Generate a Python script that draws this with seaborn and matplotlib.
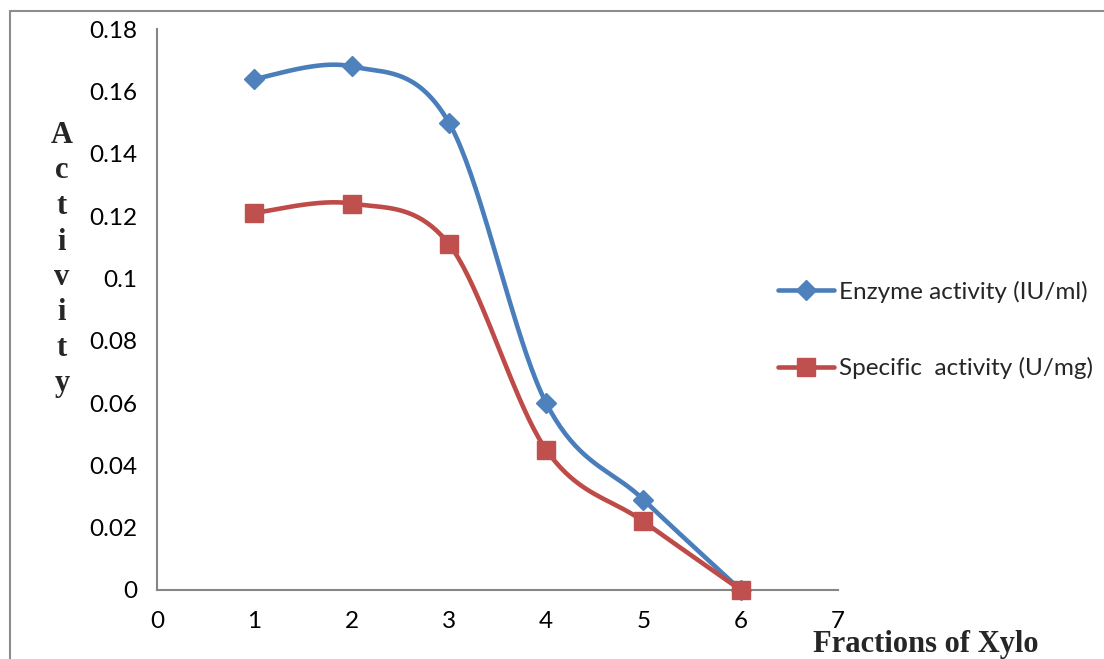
import numpy as np
import pandas as pd
import matplotlib
matplotlib.use("Agg")
import matplotlib.pyplot as plt
from matplotlib.lines import Line2D
import seaborn as sns

# ---- data ----
fractions = [1, 2, 3, 4, 5, 6]
enzyme_activity = [0.164, 0.168, 0.150, 0.060, 0.029, 0.0]
specific_activity = [0.121, 0.124, 0.111, 0.045, 0.022, 0.0]
series_names = ["Enzyme activity (IU/ml)", "Specific  activity (U/mg)"]
x_ticks = [0, 1, 2, 3, 4, 5, 6, 7]
y_ticks = [0, 0.02, 0.04, 0.06, 0.08, 0.1, 0.12, 0.14, 0.16, 0.18]
y_tick_labels = ["0", "0.02", "0.04", "0.06", "0.08", "0.1", "0.12", "0.14", "0.16", "0.18"]

BLUE_LINE, BLUE_MK = "#4A7EBB", "#4F81BD"
RED_LINE, RED_MK = "#BE4B48", "#C0504D"
GRAY = "#868686"


def excel_smooth(xs, ys, n=40):
    """Excel-style smoothed line (Catmull-Rom Bezier) drawn through data points."""
    P = np.column_stack([xs, ys]).astype(float)
    ext = np.vstack([P[0], P, P[-1]])
    out = []
    for i in range(len(P) - 1):
        p0, p1, p2, p3 = ext[i], ext[i + 1], ext[i + 2], ext[i + 3]
        c1 = p1 + (p2 - p0) / 6.0
        c2 = p2 - (p3 - p1) / 6.0
        t = np.linspace(0, 1, n, endpoint=(i == len(P) - 2))[:, None]
        seg = ((1 - t) ** 3) * p1 + 3 * ((1 - t) ** 2) * t * c1 + 3 * (1 - t) * t ** 2 * c2 + t ** 3 * p2
        out.append(seg)
    return np.vstack(out)


sns.set_theme(style="white")
plt.rcParams["font.family"] = ["Lato", "DejaVu Sans"]

fig = plt.figure(figsize=(11.04, 6.59), dpi=100)
ax = fig.add_axes([157 / 1104, 1 - 590 / 659, (838 - 157) / 1104, (590 - 29) / 659])

rows = []
for name, vals in zip(series_names, [enzyme_activity, specific_activity]):
    sm = excel_smooth(fractions, vals)
    for k, (xx, yy) in enumerate(sm):
        rows.append({"series": name, "order": k, "x": xx, "y": yy})
df = pd.DataFrame(rows)

sns.lineplot(data=df, x="x", y="y", hue="series", units="series", estimator=None, sort=False,
             palette=[BLUE_LINE, RED_LINE], linewidth=3.3, legend=False, ax=ax)

ax.plot(fractions, enzyme_activity, linestyle="none", marker="D", markersize=10.5,
        color=BLUE_MK, markeredgecolor=BLUE_MK, zorder=5, clip_on=False)
ax.plot(fractions, specific_activity, linestyle="none", marker="s", markersize=13.5,
        color=RED_MK, markeredgecolor=RED_MK, zorder=5, clip_on=False)

ax.set_xlim(0, 7)
ax.set_ylim(0, 0.18)
ax.set_xticks(x_ticks)
ax.set_xticklabels([str(v) for v in x_ticks])
ax.set_yticks(y_ticks)
ax.set_yticklabels(y_tick_labels)
ax.set_xlabel("")
ax.set_ylabel("")
ax.grid(False)
for s in ["top", "right"]:
    ax.spines[s].set_visible(False)
for s in ["left", "bottom"]:
    ax.spines[s].set_color(GRAY)
    ax.spines[s].set_linewidth(1.5)
ax.tick_params(axis="both", which="major", direction="out", length=5, width=1.5,
               color=GRAY, labelsize=17.5, labelcolor="black")
ax.tick_params(axis="y", pad=9)
ax.tick_params(axis="x", pad=10)

handles = [
    Line2D([], [], color=BLUE_LINE, linewidth=3.3, marker="D", markersize=10.5,
           markerfacecolor=BLUE_MK, markeredgecolor=BLUE_MK),
    Line2D([], [], color=RED_LINE, linewidth=3.3, marker="s", markersize=13.5,
           markerfacecolor=RED_MK, markeredgecolor=RED_MK),
]
fig.legend(handles, series_names, loc="center left", bbox_to_anchor=(778 / 1104, 1 - 330 / 659),
           frameon=False, fontsize=17.5, handlelength=2.3, handletextpad=0.2,
           labelspacing=2.25, borderpad=0, borderaxespad=0)

# stacked y-axis label
letters = list("Activity")
for i, ch in enumerate(letters):
    fig.text(62 / 1104, 1 - (143 + 35.5 * i) / 659, ch, ha="center", va="baseline",
             fontsize=22, fontweight="bold", family=["Liberation Serif", "DejaVu Serif"])

fig.text(926 / 1104, 1 - 652 / 659, "Fractions of Xylo", ha="center", va="baseline",
         fontsize=22, fontweight="bold", family=["Liberation Serif", "DejaVu Serif"])

# outer chart border (top and left edges visible)
fig.add_artist(Line2D([10 / 1104, 1.0], [1 - 11 / 659, 1 - 11 / 659], transform=fig.transFigure,
                      color="#8C8C8C", linewidth=1.5))
fig.add_artist(Line2D([10 / 1104, 10 / 1104], [0, 1 - 11 / 659], transform=fig.transFigure,
                      color="#8C8C8C", linewidth=1.5))

fig.savefig("out.png", dpi=100)
